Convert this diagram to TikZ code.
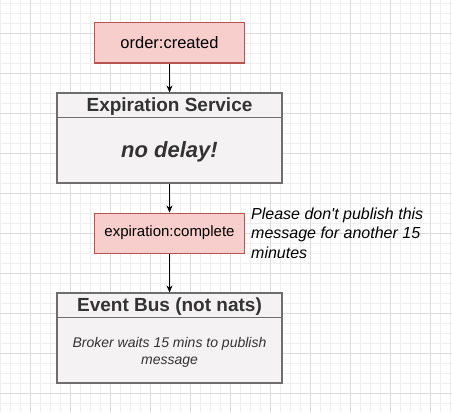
\documentclass[tikz,border=0pt]{standalone}
\usepackage{fontspec}
\setmainfont{Liberation Sans}
\usetikzlibrary{arrows.meta}
\definecolor{eventfill}{HTML}{F8CECC}
\definecolor{eventline}{HTML}{B85450}
\definecolor{svcfill}{HTML}{F4F2F3}
\definecolor{svcline}{HTML}{6E6E6E}
\definecolor{svctext}{HTML}{333333}
\definecolor{gridminor}{HTML}{EEEEEE}
\definecolor{gridmajor}{HTML}{DCDCDC}
\begin{document}
\begin{tikzpicture}[x=1pt, y=-1pt,
  event/.style={draw=eventline, fill=eventfill, line width=1pt, minimum width=150pt, minimum height=40pt, inner sep=0pt},
  service/.style={draw=svcline, fill=svcfill, line width=1.2pt, minimum width=225pt, minimum height=90pt, inner sep=0pt},
  title/.style={text=svctext, font=\fontsize{19}{22}\selectfont\bfseries, inner sep=0pt},
  flow/.style={-{Stealth[length=7pt,width=6pt]}, line width=0.9pt}]
  \useasboundingbox (0,0) rectangle (452,412);
  \fill[white] (0,0) rectangle (452,412);
  % grid
  \foreach \x in {0,10,...,450} \draw[gridminor, line width=0.6pt] (\x,0) -- (\x,412);
  \foreach \y in {3,13,...,403} \draw[gridminor, line width=0.6pt] (0,\y) -- (452,\y);
  \foreach \x in {30,70,...,430} \draw[gridmajor, line width=0.8pt] (\x,0) -- (\x,412);
  \foreach \y in {33,73,...,393} \draw[gridmajor, line width=0.8pt] (0,\y) -- (452,\y);

  \node[event, font=\fontsize{16.5}{20}\selectfont] (created) at (169.5,43) {order:created};

  \node[service] (expsvc) at (169.5,138) {};
  \draw[svcline, line width=1pt] ([yshift=-25pt]expsvc.north west) -- ([yshift=-25pt]expsvc.north east);
  \node[title] (expsvctitle) at (169.5,107) {Expiration Service};
  \node[text=svctext, font=\fontsize{22}{26}\selectfont\bfseries\itshape, inner sep=0pt] (nodelay) at (169.5,152) {no delay!};

  \node[event, font=\fontsize{15}{18}\selectfont] (complete) at (169.5,233) {expiration:complete};
  \node[anchor=west, align=left, font=\fontsize{16}{19.3}\selectfont\itshape, inner sep=0pt] (note) at (251,233)
    {Please don\textquotesingle t publish this\\message for another 15\\minutes};

  \node[service] (bus) at (169.5,338) {};
  \draw[svcline, line width=1pt] ([yshift=-25pt]bus.north west) -- ([yshift=-25pt]bus.north east);
  \node[title] (bustitle) at (169.5,307) {Event Bus (not nats)};
  \node[text=svctext, align=center, font=\fontsize{14}{17}\selectfont\itshape, inner sep=0pt] (busbody) at (169.5,352.5)
    {Broker waits 15 mins to publish\\message};

  \draw[flow] (created) -- (expsvc);
  \draw[flow] (expsvc) -- (complete);
  \draw[flow] (complete) -- (bus);
\end{tikzpicture}
\end{document}
